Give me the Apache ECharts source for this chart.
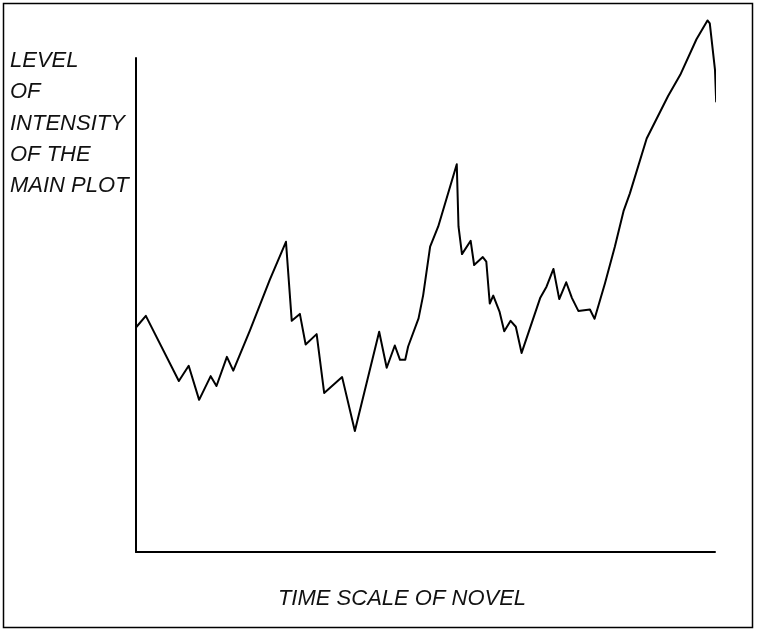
<!DOCTYPE html>
<html>
<head>
<meta charset="utf-8">
<script src="https://cdn.jsdelivr.net/npm/echarts@6/dist/echarts.min.js"></script>
<style>
html,body{margin:0;padding:0;background:#fff;}
#chart{width:758px;height:630px;}
</style>
</head>
<body>
<div id="chart"></div>
<script>
// Time through the novel (0-100) and plot intensity (0-100 scale, may exceed top of axis)
const timeScale = [0.1, 1.7, 7.4, 9.1, 10.9, 12.9, 13.9, 15.7, 16.8, 19.7, 23.1, 25.9, 26.9, 28.3, 29.3, 31.2, 32.5, 35.6, 37.8, 42.0, 43.3, 44.7, 45.6, 46.5, 47.0, 48.8, 49.6, 50.8, 52.2, 55.4, 55.7, 56.3, 57.8, 58.4, 59.9, 60.5, 61.1, 61.7, 62.8, 63.6, 64.7, 65.6, 66.6, 69.8, 70.9, 72.1, 73.1, 74.3, 75.3, 76.4, 78.4, 79.2, 81.0, 82.7, 84.2, 85.3, 88.2, 91.9, 94.0, 96.8, 98.7, 99.1, 100.0, 100.2];
const intensity = [45.6, 47.8, 34.6, 37.7, 30.8, 35.6, 33.6, 39.5, 36.7, 44.9, 55.1, 62.8, 46.8, 48.2, 42.0, 44.1, 32.2, 35.4, 24.5, 44.6, 37.3, 41.8, 38.9, 38.9, 41.6, 47.3, 52.0, 61.8, 65.9, 78.5, 65.9, 60.3, 63.0, 58.1, 59.7, 58.8, 50.3, 51.9, 48.6, 44.7, 46.8, 45.6, 40.3, 51.4, 53.7, 57.3, 51.2, 54.6, 51.4, 48.8, 49.1, 47.2, 54.4, 61.8, 69.0, 72.6, 83.7, 92.3, 96.6, 103.8, 107.6, 107.0, 97.6, 91.2];
const yLabelLines = ['LEVEL', 'OF', 'INTENSITY', 'OF THE', 'MAIN PLOT'];
const xLabel = 'TIME SCALE OF NOVEL';

const FONT = "'Liberation Sans', 'DejaVu Sans', sans-serif";
const chart = echarts.init(document.getElementById('chart'), null, {renderer: 'canvas'});

const points = timeScale.map((t, i) => [t, intensity[i]]);

const graphics = [
  {type: 'rect', shape: {x: 3.5, y: 3.5, width: 749, height: 624}, style: {fill: 'none', stroke: '#000', lineWidth: 1.5}, z: 10}
];
yLabelLines.forEach((txt, i) => {
  graphics.push({
    type: 'text', left: 10, top: 50 + i * 31.3,
    style: {text: txt, font: 'italic 22px ' + FONT, fill: '#111'}
  });
});
graphics.push({
  type: 'text', x: 402, y: 599,
  style: {text: xLabel, font: 'italic 22px ' + FONT, fill: '#111', textAlign: 'center', textVerticalAlign: 'middle'}
});

chart.setOption({
  animation: false,
  backgroundColor: '#fff',
  grid: {left: 136, right: 43, top: 58, bottom: 78, containLabel: false},
  xAxis: {
    type: 'value', min: 0, max: 100,
    axisLine: {show: true, onZero: false, lineStyle: {color: '#000', width: 2}},
    axisTick: {show: false}, axisLabel: {show: false}, splitLine: {show: false}
  },
  yAxis: {
    type: 'value', min: 0, max: 100,
    axisLine: {show: true, onZero: false, lineStyle: {color: '#000', width: 2}},
    axisTick: {show: false}, axisLabel: {show: false}, splitLine: {show: false}
  },
  series: [{
    type: 'line',
    data: points,
    clip: false,
    showSymbol: false,
    symbol: 'none',
    smooth: false,
    lineStyle: {color: '#000', width: 2, join: 'round', cap: 'round'}
  }],
  graphic: graphics
});
</script>
</body>
</html>
